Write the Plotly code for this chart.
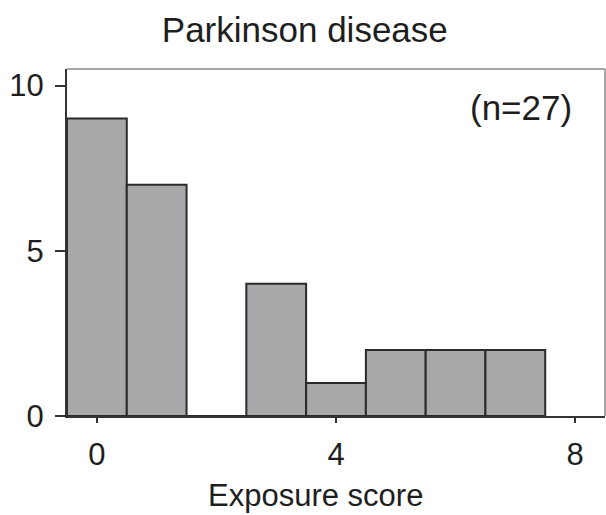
import plotly.graph_objects as go

scores = [0, 1, 2, 3, 4, 5, 6, 7]
counts = [9, 7, 0, 4, 1, 2, 2, 2]
x_ticks = [0, 4, 8]
y_ticks = [0, 5, 10]
title = "Parkinson disease"
x_title = "Exposure score"
n_label = "(n=27)"

FONT = "Liberation Sans, Arial, sans-serif"
TXT = "#1e1e1e"

fig = go.Figure(go.Bar(
    x=scores, y=counts, width=1,
    marker=dict(color="#a8a8ab", line=dict(color="#2b2b2b", width=2)),
))

fig.update_layout(
    width=606, height=515,
    margin=dict(l=67, r=1, t=69, b=99, autoexpand=False),
    paper_bgcolor="white", plot_bgcolor="white",
    showlegend=False,
    font=dict(family=FONT, color=TXT),
    title=dict(text=title, x=0.442, xanchor="center", xref="paper",
               y=1 - 30 / 515, yanchor="middle", yref="container",
               automargin=False,
               font=dict(size=35, family=FONT, color=TXT)),
    shapes=[
        dict(type="line", xref="paper", yref="paper", x0=0, x1=1, y0=1, y1=1,
             line=dict(color="#8a8a8a", width=1.5)),
        dict(type="line", xref="paper", yref="paper", x0=1, x1=1, y0=0, y1=1,
             line=dict(color="#8a8a8a", width=1.5)),
    ],
    annotations=[
        dict(text=n_label, xref="paper", yref="paper", x=0.844, y=0.89,
             xanchor="center", yanchor="middle",
             showarrow=False, font=dict(size=35, family=FONT, color=TXT)),
        dict(text=x_title, xref="paper", yref="paper", x=0.461, y=-(495 - 416) / 347,
             xanchor="center", yanchor="middle", showarrow=False, borderpad=0,
             font=dict(size=31, family=FONT, color=TXT)),
    ],
)

fig.update_xaxes(
    range=[-0.5, 8.5], tickvals=x_ticks, ticks="outside", ticklen=5,
    tickwidth=2, tickcolor="#333", showline=True, linecolor="#333", linewidth=2,
    showgrid=False, zeroline=False, automargin=False, ticklabelstandoff=5,
    tickfont=dict(size=31, family=FONT, color=TXT),
)
fig.update_yaxes(
    range=[0, 10.5], tickvals=y_ticks, ticks="outside", ticklen=10,
    tickwidth=2, tickcolor="#333", showline=True, linecolor="#333", linewidth=2,
    showgrid=False, zeroline=False, automargin=False, ticklabelstandoff=5,
    tickfont=dict(size=31, family=FONT, color=TXT),
)

fig.write_html("out.html", config={"displayModeBar": False},
               post_script="document.body.style.margin='0';document.body.style.padding='0';")
